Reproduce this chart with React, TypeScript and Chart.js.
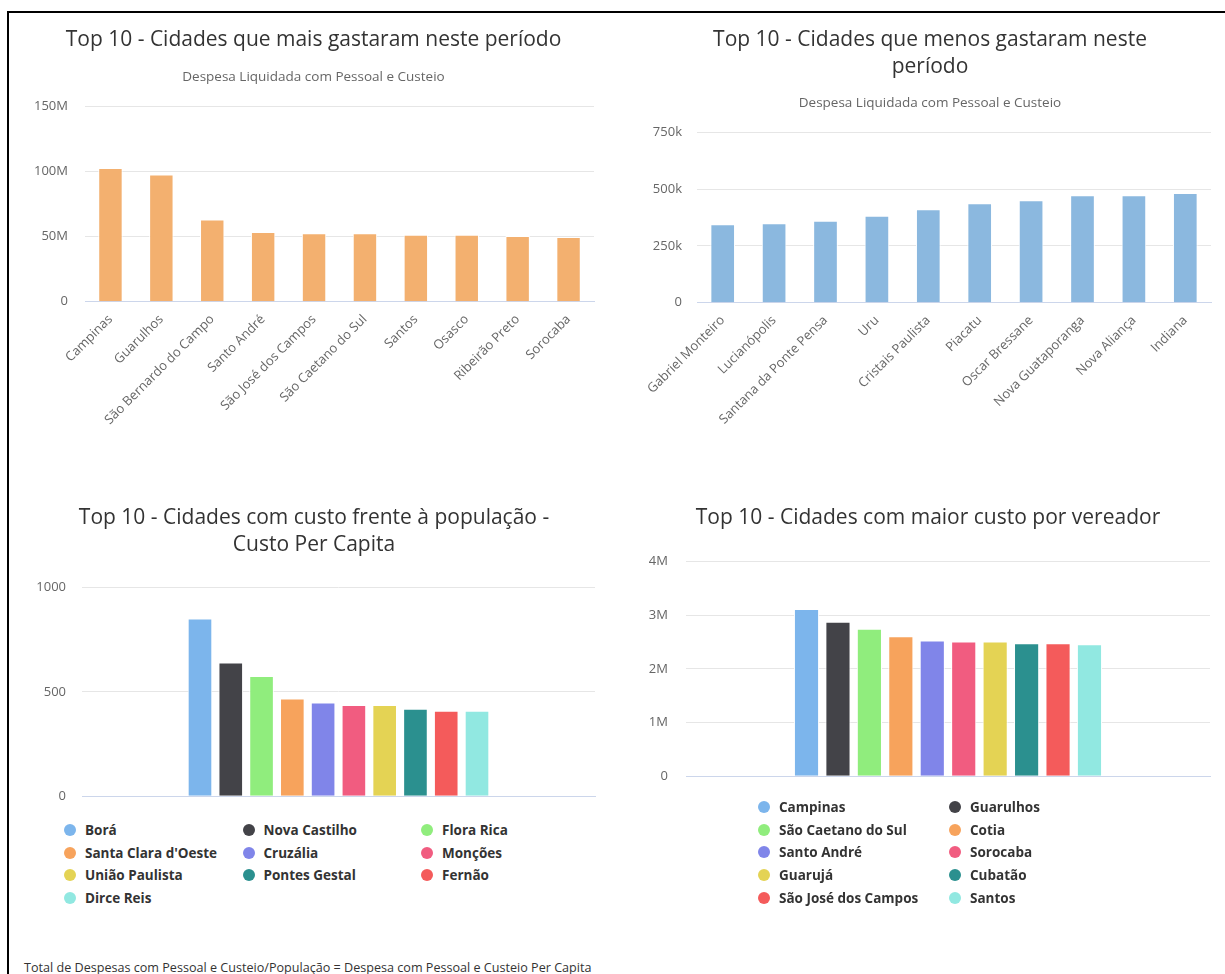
import React, { useEffect, useRef } from 'react';
import { Chart, registerables } from 'chart.js';

Chart.register(...registerables);

const FONT = "'Open Sans', 'Noto Sans', sans-serif";

// ---------- Data ----------
const maisCidades = ['Campinas', 'Guarulhos', 'São Bernardo do Campo', 'Santo André', 'São José dos Campos', 'São Caetano do Sul', 'Santos', 'Osasco', 'Ribeirão Preto', 'Sorocaba'];
const maisValores = [102400000, 97500000, 63100000, 53400000, 52400000, 52400000, 51300000, 51300000, 50300000, 49500000];

const menosCidades = ['Gabriel Monteiro', 'Lucianópolis', 'Santana da Ponte Pensa', 'Uru', 'Cristais Paulista', 'Piacatu', 'Oscar Bressane', 'Nova Guataporanga', 'Nova Aliança', 'Indiana'];
const menosValores = [345000, 349500, 361000, 383000, 411000, 437500, 450700, 472700, 472700, 482800];

const capitaCidades = ['Borá', 'Nova Castilho', 'Flora Rica', "Santa Clara d'Oeste", 'Cruzália', 'Monções', 'União Paulista', 'Pontes Gestal', 'Fernão', 'Dirce Reis'];
const capitaValores = [852, 641, 576, 468, 450, 438, 438, 419, 410, 410];

const vereadorCidades = ['Campinas', 'Guarulhos', 'São Caetano do Sul', 'Cotia', 'Santo André', 'Sorocaba', 'Guarujá', 'Cubatão', 'São José dos Campos', 'Santos'];
const vereadorValores = [3120000, 2880000, 2750000, 2610000, 2530000, 2510000, 2510000, 2480000, 2480000, 2460000];

const palette = ['#7cb5ec', '#434348', '#90ed7d', '#f7a35c', '#8085e9', '#f15c80', '#e4d354', '#2b908f', '#f45b5b', '#91e8e1'];

const titulo1 = 'Top 10 - Cidades que mais gastaram neste período';
const titulo2 = ['Top 10 - Cidades que menos gastaram neste', 'período'];
const titulo3 = ['Top 10 - Cidades com custo frente à população -', 'Custo Per Capita'];
const titulo4 = 'Top 10 - Cidades com maior custo por vereador';
const subtitulo = 'Despesa Liquidada com Pessoal e Custeio';
const rodape = 'Total de Despesas com Pessoal e Custeio/População = Despesa com Pessoal e Custeio Per Capita';

const fmtM = (v: number) => (v === 0 ? '0' : v / 1e6 + 'M');
const fmtK = (v: number) => (v === 0 ? '0' : v / 1e3 + 'k');
const fmtN = (v: number) => String(v);

interface AxisSpec {
  max: number;
  step: number;
  fmt: (v: number) => string;
  yWidth: number;
  tickPad: number;
  xHeight: number;
  showX: boolean;
}

function makeScales(a: AxisSpec) {
  return {
    x: {
      ticks: {
        display: a.showX,
        color: '#666666',
        font: { size: 13, family: FONT },
        minRotation: 45,
        maxRotation: 45,
        autoSkip: false,
        padding: 2,
      },
      grid: { display: false },
      border: { display: true, color: '#ccd6eb', width: 1 },
      afterFit: (s: any) => {
        s.height = a.xHeight;
      },
    },
    y: {
      min: 0,
      max: a.max,
      ticks: {
        stepSize: a.step,
        padding: a.tickPad,
        color: '#666666',
        font: { size: 13, family: FONT },
        callback: (v: any) => a.fmt(Number(v)),
      },
      grid: {
        drawTicks: false,
        color: (c: any) => (c.tick && c.tick.value === 0 ? '#ccd6eb' : '#e6e6e6'),
      },
      border: { display: false },
      afterFit: (s: any) => {
        s.width = a.yWidth;
      },
    },
  };
}

interface BoxProps {
  left: number;
  top: number;
  width: number;
  height: number;
  build: () => any;
}

function ChartBox({ left, top, width, height, build }: BoxProps) {
  const ref = useRef<HTMLCanvasElement | null>(null);
  useEffect(() => {
    if (!ref.current) return;
    const chart = new Chart(ref.current, build());
    return () => chart.destroy();
  }, []);
  return (
    <div style={{ position: 'absolute', left, top, width, height }}>
      <canvas ref={ref} />
    </div>
  );
}

function titleOpts(text: any, padTop: number, padBottom: number) {
  return {
    display: true,
    text,
    color: '#333333',
    font: { size: 21, weight: 'normal', family: FONT, lineHeight: 27 / 21 },
    padding: { top: padTop, bottom: padBottom },
  };
}

function subOpts(padTop: number, padBottom: number) {
  return {
    display: true,
    text: subtitulo,
    color: '#666666',
    font: { size: 13.5, weight: 'normal', family: FONT, lineHeight: 14.4 / 13.5 },
    padding: { top: padTop, bottom: padBottom },
  };
}

function singleSeries(labels: string[], values: number[], color: string, title: any, tPad: [number, number], sPad: [number, number], axis: AxisSpec, L: number, R: number) {
  return {
    type: 'bar',
    data: {
      labels,
      datasets: [
        {
          label: 'Despesa',
          data: values,
          backgroundColor: color,
          borderColor: '#ffffff',
          borderWidth: 1,
          borderSkipped: 'bottom',
          categoryPercentage: 0.6,
          barPercentage: 0.8,
        },
      ],
    },
    options: {
      responsive: true,
      maintainAspectRatio: false,
      animation: false,
      layout: { padding: { left: L, right: R, top: 0, bottom: 0 } },
      plugins: {
        legend: { display: false },
        tooltip: { enabled: false },
        title: titleOpts(title, tPad[0], tPad[1]),
        subtitle: subOpts(sPad[0], sPad[1]),
      },
      scales: makeScales(axis),
    },
  };
}

function multiSeries(names: string[], values: number[], title: any, tPad: [number, number], axis: AxisSpec, L: number, R: number) {
  return {
    type: 'bar',
    data: {
      labels: [''],
      datasets: names.map((n, i) => ({
        label: n,
        data: [values[i]],
        backgroundColor: palette[i % palette.length],
        borderColor: '#ffffff',
        borderWidth: 1,
        borderSkipped: 'bottom',
        categoryPercentage: 0.6,
        barPercentage: 0.8,
      })),
    },
    options: {
      responsive: true,
      maintainAspectRatio: false,
      animation: false,
      layout: { padding: { left: L, right: R, top: 0, bottom: 0 } },
      plugins: {
        legend: { display: false },
        tooltip: { enabled: false },
        title: titleOpts(title, tPad[0], tPad[1]),
      },
      scales: makeScales(axis),
    },
  };
}

interface LegendProps {
  names: string[];
  cx: number;
  cy: number;
  colW: number;
  rowH: number;
  cols: number;
}

function HtmlLegend({ names, cx, cy, colW, rowH, cols }: LegendProps) {
  return (
    <>
      {names.map((n, i) => {
        const col = i % cols;
        const row = Math.floor(i / cols);
        const x = cx + col * colW;
        const y = cy + row * rowH;
        return (
          <div
            key={n + i}
            style={{
              position: 'absolute',
              left: x - 6,
              top: y - 10,
              height: 20,
              display: 'flex',
              alignItems: 'center',
              whiteSpace: 'nowrap',
            }}
          >
            <span
              style={{
                display: 'inline-block',
                width: 12,
                height: 12,
                borderRadius: '50%',
                background: palette[i % palette.length],
                marginRight: 9,
              }}
            />
            <span style={{ font: `bold 13.5px ${FONT}`, color: '#333333' }}>{n}</span>
          </div>
        );
      })}
    </>
  );
}

export default function App() {
  return (
    <div style={{ position: 'fixed', inset: 0, background: '#ffffff', overflow: 'hidden', fontFamily: FONT }}>
      <div
        style={{
          position: 'absolute',
          left: 7,
          top: 11,
          right: -20,
          bottom: -20,
          borderLeft: '2px solid #000000',
          borderTop: '2px solid #000000',
        }}
      />
      <ChartBox
        left={10}
        top={13}
        width={605}
        height={457}
        build={() =>
          singleSeries(maisCidades, maisValores, '#f3b06f', titulo1, [13.5, 10], [6.3, 21.8],
            { max: 150000000, step: 50000000, fmt: fmtM, yWidth: 52, tickPad: 17, xHeight: 168.3, showX: true }, 23, 21)
        }
      />
      <ChartBox
        left={615}
        top={13}
        width={610}
        height={457}
        build={() =>
          singleSeries(menosCidades, menosValores, '#8bb8df', titulo2, [13.5, 10], [5.3, 22.1],
            { max: 750000, step: 250000, fmt: fmtK, yWidth: 48, tickPad: 15, xHeight: 167.3, showX: true }, 34, 14)
        }
      />
      <ChartBox
        left={10}
        top={480}
        width={605}
        height={340}
        build={() =>
          multiSeries(capitaCidades, capitaValores, titulo3, [24.5, 29.2],
            { max: 1000, step: 500, fmt: fmtN, yWidth: 49, tickPad: 16, xHeight: 12.7, showX: false }, 23, 20)
        }
      />
      <ChartBox
        left={615}
        top={480}
        width={610}
        height={322}
        build={() =>
          multiSeries(vereadorCidades, vereadorValores, titulo4, [24.5, 30.2],
            { max: 4000000, step: 1000000, fmt: fmtM, yWidth: 40, tickPad: 18, xHeight: 15, showX: false }, 31, 15)
        }
      />
      <HtmlLegend names={capitaCidades} cx={70} cy={830} colW={178.5} rowH={22.6} cols={3} />
      <HtmlLegend names={vereadorCidades} cx={764} cy={807} colW={191} rowH={22.7} cols={2} />
      <div
        style={{
          position: 'absolute',
          left: 24,
          top: 959,
          font: `12.6px/18px ${FONT}`,
          color: '#333333',
          whiteSpace: 'nowrap',
        }}
      >
        {rodape}
      </div>
    </div>
  );
}
